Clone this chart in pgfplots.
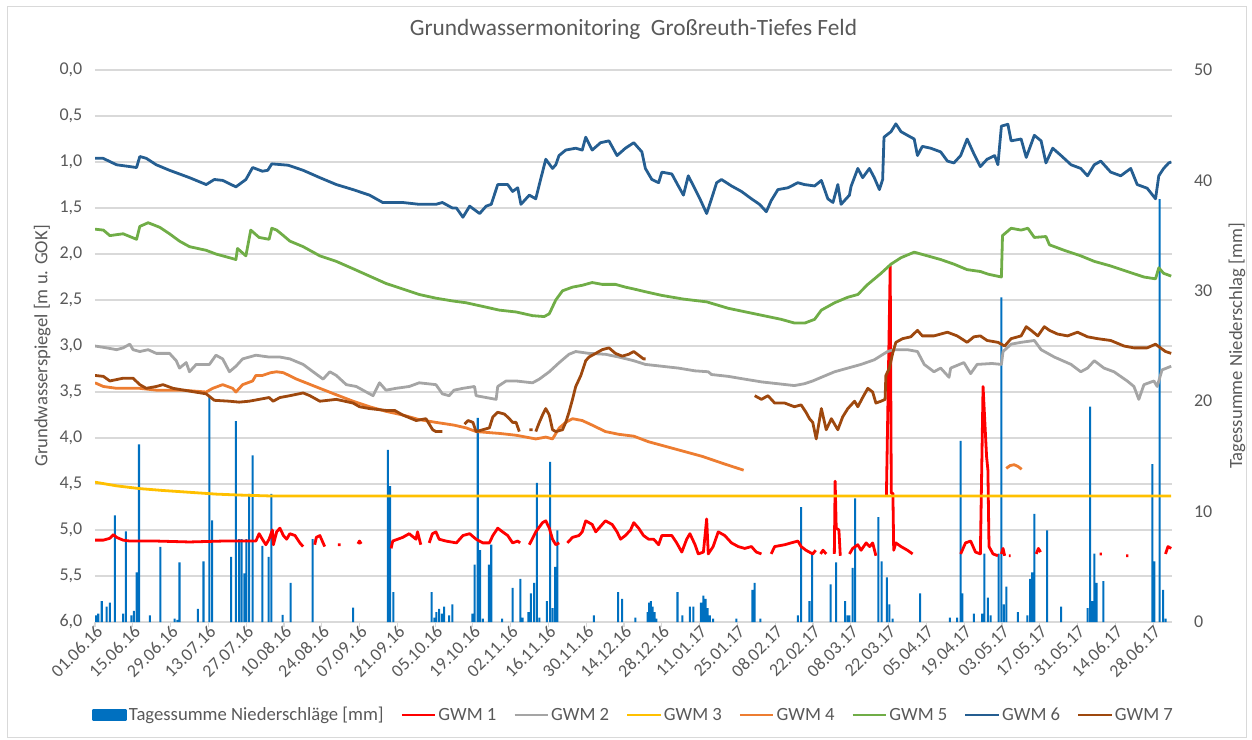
\documentclass[border=0pt]{standalone}
\usepackage{pgfplots}
\pgfplotsset{compat=1.18}
\usepackage{fontspec}
\setmainfont{Carlito}
\definecolor{barblue}{HTML}{0070C0}
\definecolor{gwmA}{HTML}{FF0000}
\definecolor{gwmB}{HTML}{A5A5A5}
\definecolor{gwmC}{HTML}{FFC000}
\definecolor{gwmD}{HTML}{ED7D31}
\definecolor{gwmE}{HTML}{70AD47}
\definecolor{gwmF}{HTML}{255E91}
\definecolor{gwmG}{HTML}{9E480E}
\definecolor{gridgray}{HTML}{D9D9D9}
\definecolor{textgray}{HTML}{595959}
\newcommand{\tickfont}{\fontsize{13.5}{15}\selectfont}
\newcommand{\labfont}{\fontsize{14}{16}\selectfont}
\pgfplotsset{
  base/.style={at={(0,0)}, anchor=south west, scale only axis,
    width=807.75pt, height=414pt, xmin=0, xmax=399},
  /pgfplots/legend image code/.code={\draw[#1] (0pt,0pt) -- (25pt,0pt);},
}
\begin{document}
\begin{tikzpicture}
\path[use as bounding box] (-71.25pt,-87.75pt) rectangle (867.75pt,466.5pt);
\draw[gridgray, line width=0.75pt] (-65.25pt,-86.25pt) rectangle (863.25pt,461.25pt);

% Axis A: grid, left axis, title
\begin{axis}[base, ymin=0, ymax=6, y dir=reverse,
  ytick={0,0.5,1,1.5,2,2.5,3,3.5,4,4.5,5,5.5,6}, xtick=\empty,
  ymajorgrids, grid style={gridgray, line width=0.9pt},
  axis line style={draw=none}, major tick length=0pt,
  /pgf/number format/assume math mode=true,
  yticklabel style={font=\tickfont, text=textgray, xshift=-6pt,
    /pgf/number format/.cd, fixed, fixed zerofill, precision=1, use comma},
  ylabel={Grundwasserspiegel [m u. GOK]},
  ylabel style={font=\labfont, text=textgray, at={(axis description cs:-0.049,0.5)}, anchor=center},
  title={Grundwassermonitoring\ \ Großreuth-Tiefes Feld},
  title style={at={(axis description cs:0.5,1)}, anchor=center, yshift=24.75pt,
    font=\fontsize{17.5}{20}\selectfont, text=textgray},
]
\end{axis}

% Axis B: precipitation bars, right axis, x axis
\begin{axis}[base, ymin=0, ymax=50,
  axis x line*=bottom, axis y line*=right,
  x axis line style={gridgray, line width=0.9pt, -},
  y axis line style={draw=none, -},
  xtick={0,14,...,392},
  xticklabels={01.06.16,15.06.16,29.06.16,13.07.16,27.07.16,10.08.16,24.08.16,07.09.16,21.09.16,05.10.16,19.10.16,02.11.16,16.11.16,30.11.16,14.12.16,28.12.16,11.01.17,25.01.17,08.02.17,22.02.17,08.03.17,22.03.17,05.04.17,19.04.17,03.05.17,17.05.17,31.05.17,14.06.17,28.06.17},
  xticklabel style={font=\tickfont, text=textgray, rotate=45, anchor=east, xshift=5pt, yshift=-3pt},
  xtick style={gridgray, line width=0.9pt},
  tick align=outside, major tick length=4pt,
  ytick={0,10,20,30,40,50}, ytick style={draw=none},
  /pgf/number format/assume math mode=true,
  yticklabel style={font=\tickfont, text=textgray, xshift=9pt},
  ylabel={Tagessumme Niederschlag [mm]},
  ylabel style={font=\labfont, text=textgray, at={(axis description cs:1.0604,0.5)}, anchor=center},
  ybar, bar width=0.75,
]
\addplot[fill=barblue, draw=none] coordinates {
(0.4,0.6) (1.2,0.75) (2.5,1.9) (4.3,1.4) (5.5,1.75) (7.4,9.65) (10.4,0.75) (11.4,8.2) (13.5,0.6) (14.4,1.0) (15.4,4.5) (16.3,16.1) (20.3,0.6) (24.2,6.8) (29.5,0.3) (30.5,0.2) (31.3,5.4) (38.1,1.2) (40.2,5.5) (42.4,20.4) (43.4,9.2) (50.4,5.9) (52.2,18.2) (53.4,7.5) (54.3,7.5) (55.3,4.4) (56.1,7.5) (57.1,11.6) (58.4,15.1) (62,6.9) (64.3,5.9) (65.3,11.6) (69.5,0.65) (72.5,3.55) (80.6,7.5) (95.6,1.3) (108.5,15.6) (109.3,12.3) (110.5,2.7) (124.7,2.7) (125.7,0.4) (126.5,0.9) (127.5,1.2) (128.5,0.75) (129.3,1.4) (131.2,0.6) (132.4,1.6) (139.8,0.75) (140.6,5.2) (141.8,18.5) (142.7,6.5) (143.7,0.3) (145.9,5.2) (146.8,7.0) (150.8,0.3) (154.7,3.1) (157.6,3.9) (158.4,0.4) (160.6,0.9) (161.5,2.6) (162.7,3.55) (163.7,12.6) (164.6,0.4) (167.4,1.9) (168.6,14.5) (169.5,1.25) (170.5,5.0) (171.3,8.3) (184.8,0.6) (193.8,2.7) (195.3,2.1) (200.2,0.4) (204.7,0.9) (205.3,1.75) (205.9,1.9) (206.6,1.4) (207.3,0.9) (208,0.3) (215.8,2.7) (217.6,0.6) (220.4,1.4) (221.7,1.4) (224.5,1.75) (225.4,2.4) (226.2,2.1) (227,1.25) (227.8,0.6) (229,0.3) (237.6,0.3) (243.5,2.9) (244.4,3.55) (246.5,0.3) (260.4,0.6) (261.6,10.4) (264.7,1.9) (265.7,6.2) (272.5,3.4) (274.6,5.4) (277.9,1.9) (278.8,0.6) (279.5,0.6) (280.7,4.9) (281.6,11.2) (290.2,9.5) (291.4,5.5) (293.4,4.05) (294.3,1.6) (295.5,0.3) (305.7,2.6) (316.7,0.4) (319.4,0.4) (320.7,16.4) (321.3,2.6) (325.6,0.75) (328.7,0.75) (329.5,6.2) (330.8,2.2) (331.8,0.6) (334.8,6.2) (335.8,29.4) (336.7,1.6) (337.6,3.2) (341.9,0.9) (345.4,0.6) (346.4,3.9) (347.2,4.5) (348,9.8) (352.7,8.3) (357.9,1.4) (367.7,1.25) (368.7,19.5) (369.5,1.9) (370.2,6.2) (371.1,3.55) (373.6,3.7) (391.7,14.3) (392.5,5.5) (394.4,38.3) (395.7,2.9) (396.6,0.3)
};
\end{axis}

% Axis C: groundwater lines
\begin{axis}[base, ymin=0, ymax=6, y dir=reverse, hide axis,
  unbounded coords=jump,
  legend columns=-1,
  legend style={at={(0.5,-0.1685)}, anchor=center, draw=none, fill=none,
    font=\labfont, text=textgray, nodes={inner sep=1.5pt},
    /tikz/every even column/.append style={column sep=11pt}},
  every axis plot/.append style={line width=2.1pt, mark=none, line join=round},
]
\addlegendimage{legend image code/.code={\fill[barblue] (0pt,-3.75pt) rectangle (24pt,3.75pt);}}
\addlegendentry{Tagessumme Niederschläge [mm]}

% GWM 1
\addplot[gwmA] coordinates {
(0,5.11) (3.1,5.11) (5.5,5.09) (6.8,5.05) (8,5.08) (10.4,5.11) (12.9,5.12) (22.7,5.12) (35,5.13) (47.3,5.12) (59.6,5.12) (60.8,5.04) (62,5.1) (63.3,5.16) (64.5,5.1) (65.7,5.0) (66.1,5.16) (67.3,5.02) (68.5,4.98) (69.8,5.06) (71,5.1) (72.2,5.04) (74.1,5.06) (75.9,5.14) (77.1,5.18) (77.5,nan)
(81.4,5.16) (82,5.08) (83.3,5.06) (84.5,5.14) (85.1,5.18) (85.5,nan)
(90,5.16) (91,5.16) (91.5,nan)
(97.4,5.15) (98,5.12) (98.6,5.15) (99,nan)
(109.7,5.2) (110.3,5.12) (114,5.08) (116.4,5.04) (118.9,5.1) (119.5,5.02) (120.7,5.16) (121,nan)
(123.8,5.14) (125,5.04) (126.3,5.02) (127.5,5.1) (130,5.12) (133.9,5.14) (136.3,5.06) (138.8,5.04) (141.2,5.1) (143.7,5.14) (146.1,5.14) (147.4,5.06) (149.2,4.98) (151,5.02) (152.9,5.06) (154.7,5.14) (156.6,5.12) (157.5,5.14) (158,nan)
(160.9,5.16) (163.3,5.02) (165.8,4.92) (167,4.9) (168.3,4.98) (169.5,5.1) (170.7,5.16) (172,5.14) (172.5,nan)
(175,5.14) (176.9,5.08) (179.3,5.06) (180.5,5.02) (181.8,4.9) (184.2,4.94) (185.5,5.02) (187.3,4.96) (189.1,4.9) (191.6,4.94) (193.4,5.02) (194.7,5.1) (196.5,5.06) (198.4,5.0) (199.6,4.92) (201.4,4.98) (203.2,5.06) (205.1,5.1) (207,5.1) (208.8,5.16) (210,5.06) (213.7,5.06) (215.5,5.14) (217.4,5.24) (219.2,5.1) (220.4,5.04) (222.3,5.16) (223.5,5.26) (225.4,5.24) (226.6,4.88) (227.2,5.26) (229,5.18) (230.9,5.02) (233.3,5.06) (235.8,5.14) (238.3,5.18) (240.7,5.2) (243.2,5.18) (245,5.24) (246.9,5.26) (247.5,nan)
(250.5,5.26) (251.8,5.18) (255.5,5.16) (257.9,5.14) (260.4,5.12) (261.6,5.18) (263.4,5.22) (265.9,5.26) (267,5.22) (267.5,nan)
(268.8,5.26) (269.7,5.22) (270.9,5.26) (271.5,nan)
(273.9,5.26) (274.2,4.47) (274.6,4.98) (275.6,5.0) (276.1,5.28) (276.5,nan)
(279.5,5.26) (280.7,5.2) (282.6,5.16) (283.8,5.22) (285.7,5.14) (287,5.18) (288.1,5.14) (289.3,5.28) (290,nan)
(293.2,4.62) (294.6,2.13) (295,4.6) (295.6,4.6) (295.9,5.22) (296.7,5.14) (298.6,5.18) (301,5.22) (302.9,5.26) (303.5,nan)
(320.7,5.26) (322.5,5.14) (324.4,5.12) (326.2,5.24) (328,5.26) (329,3.44) (330.3,4.2) (330.8,4.35) (331.2,5.18) (332.7,5.26) (334.5,5.28) (335,nan)
(335.8,5.26) (336.4,5.2) (337,5.28) (337.5,nan)
(338.6,5.28) (339.2,5.28) (339.5,nan)
(348.7,5.26) (349.5,5.2) (350.3,5.24) (350.8,nan)
(372.2,5.26) (373,5.26) (373.5,nan)
(382,5.28) (382.8,5.28) (383.2,nan)
(396.6,5.26) (397.5,5.18) (398.7,5.2)
};
\addlegendentry{GWM 1}

% GWM 2
\addplot[gwmB] coordinates {
(0,3.0) (4.3,3.02) (8,3.04) (10.4,3.02) (12.9,2.98) (14.1,3.04) (16.6,3.06) (19.7,3.04) (22.7,3.08) (27.6,3.08) (30.1,3.16) (31.3,3.24) (33.8,3.18) (35,3.28) (37.5,3.2) (42.4,3.2) (44.8,3.1) (47.3,3.14) (49.8,3.28) (52.2,3.22) (54.7,3.14) (59.6,3.1) (64.5,3.12) (68.5,3.12) (72.2,3.14) (77.1,3.2) (80.8,3.28) (84.5,3.36) (87,3.28) (89.4,3.32) (93.1,3.42) (96.8,3.44) (100.5,3.5) (103,3.54) (105.4,3.4) (107.8,3.48) (111.5,3.46) (116.4,3.44) (120.1,3.4) (126.3,3.42) (128.7,3.52) (131.2,3.54) (133,3.48) (136.3,3.46) (140.6,3.44) (141.2,3.54) (148.6,3.58) (149.2,3.44) (152.3,3.38) (156,3.38) (162.1,3.4) (164.6,3.36) (168.3,3.28) (172,3.18) (175.6,3.09) (178.1,3.06) (183,3.08) (189.1,3.09) (194.1,3.12) (199.6,3.16) (203.9,3.2) (210,3.22) (216.1,3.24) (222.3,3.27) (227.2,3.28) (228.4,3.31) (234.6,3.33) (240.7,3.36) (246.9,3.39) (253,3.41) (259.1,3.43) (262.8,3.41) (265.9,3.38) (269.1,3.34) (274,3.28) (278.9,3.24) (283.8,3.2) (288.7,3.15) (293.6,3.06) (296.1,3.04) (301,3.04) (304.7,3.06) (307.2,3.2) (310.8,3.28) (313.3,3.24) (316.4,3.34) (317,3.24) (321.9,3.18) (324.4,3.3) (326.8,3.2) (332.3,3.19) (335.8,3.2) (336.4,3.06) (339.4,2.98) (343.1,2.96) (348,2.94) (350.5,3.04) (355.4,3.12) (361.6,3.2) (365.2,3.28) (367.7,3.24) (370.2,3.16) (373.8,3.24) (377.5,3.28) (382.4,3.38) (384.9,3.44) (386.7,3.58) (388.6,3.42) (392.3,3.38) (393.5,3.44) (395.3,3.26) (398.7,3.22)
};
\addlegendentry{GWM 2}

% GWM 3
\addplot[gwmC] coordinates {
(0,4.48) (8,4.52) (16.6,4.55) (25,4.57) (35,4.59) (45,4.61) (53.4,4.62) (65,4.63) (398.7,4.63)
};
\addlegendentry{GWM 3}

% GWM 4
\addplot[gwmD] coordinates {
(0,3.40) (3.1,3.44) (8,3.46) (16.6,3.46) (22.7,3.48) (32.6,3.48) (41.2,3.5) (43.6,3.46) (47.3,3.42) (51,3.46) (52.2,3.5) (54.7,3.42) (58.4,3.38) (59.6,3.32) (62,3.32) (65.1,3.29) (67.3,3.28) (69.8,3.29) (74.7,3.36) (83.3,3.46) (89.4,3.53) (95.6,3.6) (101.7,3.66) (107.8,3.71) (114,3.75) (120.1,3.8) (126.3,3.83) (133,3.86) (137.5,3.89) (141.2,3.93) (149.8,3.95) (156,3.97) (163.3,4.01) (167,3.99) (169.5,4.01) (172,3.89) (174.4,3.83) (176.9,3.79) (180.5,3.81) (184.2,3.86) (189.1,3.93) (194.1,3.96) (199.6,3.98) (205,4.04) (215,4.12) (225,4.2) (233,4.28) (240.3,4.35) (241,nan)
(337.6,4.33) (339,4.30) (340.5,4.29) (342,4.31) (343.3,4.34)
};
\addlegendentry{GWM 4}

% GWM 5
\addplot[gwmE] coordinates {
(0,1.73) (3.1,1.74) (5.5,1.80) (10.4,1.78) (15.4,1.84) (16.6,1.70) (19.7,1.66) (24,1.71) (27.6,1.78) (31.3,1.86) (35,1.92) (41.2,1.96) (44.8,2.0) (49.8,2.04) (52.2,2.06) (52.8,1.94) (55.9,2.02) (57.7,1.74) (60.8,1.82) (64.5,1.84) (65.5,1.72) (67.3,1.74) (69.8,1.80) (72.2,1.86) (77.1,1.92) (83.3,2.02) (89.4,2.08) (95.6,2.16) (101.7,2.24) (107.8,2.32) (114,2.38) (120.1,2.44) (126.3,2.48) (132.4,2.51) (137.5,2.53) (143.7,2.57) (149.8,2.61) (156,2.63) (162.1,2.67) (166.4,2.68) (168.3,2.65) (170.7,2.5) (173.2,2.4) (176.9,2.36) (180.5,2.34) (184.2,2.31) (187.9,2.33) (192.8,2.33) (196.5,2.36) (199.6,2.38) (203.9,2.41) (210,2.45) (218,2.49) (226.6,2.52) (234.6,2.59) (244.4,2.65) (254.2,2.71) (259.1,2.75) (263,2.75) (266.6,2.71) (269.1,2.61) (274,2.53) (278.9,2.47) (282.6,2.44) (286.3,2.33) (291.2,2.21) (294.9,2.11) (298.6,2.04) (303.5,1.98) (308.4,2.02) (313.3,2.06) (318.2,2.11) (323.1,2.17) (328,2.19) (331,2.22) (335.8,2.25) (336.2,1.80) (339.4,1.72) (343.1,1.74) (345.6,1.72) (348,1.82) (352.3,1.81) (353.6,1.90) (359.1,1.96) (365.2,2.02) (370.2,2.08) (376.3,2.13) (382.4,2.19) (388.6,2.25) (392.9,2.27) (394.1,2.15) (395.9,2.21) (398.7,2.24)
};
\addlegendentry{GWM 5}

% GWM 6
\addplot[gwmF] coordinates {
(0,0.96) (3,0.96) (8,1.03) (13,1.05) (15.4,1.06) (16.6,0.94) (19,0.96) (22.7,1.03) (27.6,1.09) (35,1.17) (41.2,1.245) (44.2,1.19) (47.3,1.2) (52.2,1.27) (55.9,1.19) (58.4,1.06) (62,1.1) (64,1.09) (65.5,1.02) (71.6,1.035) (77.1,1.09) (83.3,1.17) (89.4,1.245) (95.6,1.30) (101.7,1.36) (106.6,1.44) (114,1.44) (120.1,1.46) (126.3,1.46) (128.7,1.44) (132.4,1.50) (133.9,1.50) (136.3,1.60) (138.8,1.48) (142.5,1.56) (144.9,1.48) (146.8,1.46) (149.2,1.245) (152.9,1.245) (154.7,1.32) (156.6,1.28) (157.8,1.46) (160.9,1.36) (163.3,1.40) (164.6,1.245) (167,0.97) (169.5,1.07) (170.7,1.03) (171.9,0.93) (174.4,0.87) (178.1,0.85) (180.5,0.87) (181.8,0.73) (184.2,0.87) (187.3,0.79) (190.4,0.77) (193.4,0.93) (196.5,0.85) (199.6,0.79) (202.6,0.89) (203.9,1.07) (206.3,1.19) (208.8,1.225) (210,1.11) (213.7,1.13) (216.1,1.26) (218,1.36) (219.8,1.15) (221.7,1.26) (224.1,1.40) (226.6,1.56) (228.4,1.40) (230.3,1.225) (232.1,1.19) (235.8,1.26) (239.5,1.32) (243.2,1.40) (246.2,1.46) (248.7,1.54) (250.5,1.42) (253,1.30) (256.7,1.28) (260.4,1.225) (262.8,1.245) (266.6,1.26) (269.1,1.2) (271.5,1.40) (273.4,1.44) (275.2,1.245) (276.4,1.46) (279.5,1.36) (280.1,1.265) (282.6,1.07) (284.4,1.17) (286.9,1.07) (288.7,1.17) (290.6,1.30) (291.8,1.19) (292.3,0.73) (294.9,0.67) (296.7,0.585) (298.6,0.67) (301,0.71) (303.5,0.75) (304.7,0.93) (306.5,0.83) (309.6,0.85) (313.3,0.89) (315.8,0.99) (318.2,1.01) (320.7,0.93) (323.1,0.75) (325.6,0.91) (328,1.05) (330.5,0.97) (333.3,0.93) (334.5,1.03) (335.8,0.61) (338.2,0.59) (339.4,0.77) (343.1,0.75) (345,0.95) (348,0.71) (350.5,0.77) (352.3,1.01) (354.8,0.85) (357.9,0.93) (361.6,1.03) (365.2,1.07) (367.7,1.15) (370.2,1.03) (372.6,0.99) (376.3,1.11) (380,1.15) (383.7,1.07) (386.1,1.245) (389.8,1.285) (392.9,1.40) (394.1,1.15) (395.9,1.07) (397.8,1.01) (398.7,1.0)
};
\addlegendentry{GWM 6}

% GWM 7
\addplot[gwmG] coordinates {
(0,3.32) (3.1,3.33) (5.5,3.38) (10.4,3.35) (14.1,3.35) (16.6,3.42) (19,3.46) (22.7,3.44) (25.2,3.42) (28.9,3.46) (35,3.49) (41.2,3.52) (44.2,3.59) (49.8,3.6) (53.4,3.61) (57.1,3.6) (60.8,3.58) (64.5,3.56) (66,3.6) (68.5,3.56) (72.2,3.54) (77.1,3.51) (79.6,3.54) (83.3,3.6) (89.4,3.58) (95.6,3.62) (98,3.66) (101.7,3.68) (107.8,3.7) (111,3.7) (114,3.75) (119,3.81) (122.6,3.79) (125.1,3.91) (126.3,3.93) (128.7,3.93) (129.5,nan)
(136.9,3.85) (138.2,3.81) (140,3.83) (141.2,3.93) (143.7,3.91) (146.1,3.89) (147.4,3.77) (149.2,3.72) (151.7,3.74) (153.5,3.79) (154.7,3.83) (156,3.83) (157.2,3.93) (158,nan)
(160.9,3.91) (162.1,3.91) (162.6,nan)
(163.3,3.93) (164.6,3.83) (165.8,3.75) (167,3.68) (168.3,3.75) (169.5,3.91) (170.7,3.93) (173.2,3.91) (174.4,3.83) (175.6,3.72) (176.9,3.58) (178.1,3.44) (180,3.32) (181.8,3.16) (183,3.12) (185.5,3.08) (187.9,3.04) (190.4,3.02) (192.8,3.08) (195.3,3.11) (197.7,3.09) (199.6,3.06) (201.4,3.1) (203.2,3.14) (204,3.14) (205,nan)
(244.4,3.54) (246.9,3.58) (249.3,3.54) (251.8,3.62) (255.5,3.62) (259.1,3.66) (261.6,3.64) (263.4,3.72) (264.7,3.79) (265.9,3.83) (267.2,4.01) (269.1,3.68) (270.9,3.91) (272.8,3.79) (275.2,3.91) (277,3.77) (278.9,3.68) (281.4,3.6) (282.6,3.66) (284.4,3.56) (286.3,3.46) (288.1,3.5) (289.3,3.62) (291.2,3.6) (292.7,3.58) (293,3.32) (294.3,3.24) (295.5,3.08) (296.7,2.96) (299.2,2.92) (302.2,2.9) (304.7,2.83) (306.5,2.89) (310.8,2.89) (315.8,2.85) (319.4,2.89) (323.1,2.96) (325.6,2.9) (328,2.89) (330.5,2.94) (334.5,2.96) (337,3.0) (339.4,2.92) (343.1,2.89) (345,2.79) (346.8,2.83) (349.3,2.89) (351.7,2.79) (353.6,2.83) (356.6,2.87) (360.3,2.89) (364,2.85) (367.7,2.9) (371.4,2.92) (376.3,2.94) (381.2,3.0) (384.9,3.02) (389.8,3.02) (392.9,2.98) (394.7,3.02) (396.6,3.06) (398.7,3.08)
};
\addlegendentry{GWM 7}
\end{axis}
\end{tikzpicture}
\end{document}
